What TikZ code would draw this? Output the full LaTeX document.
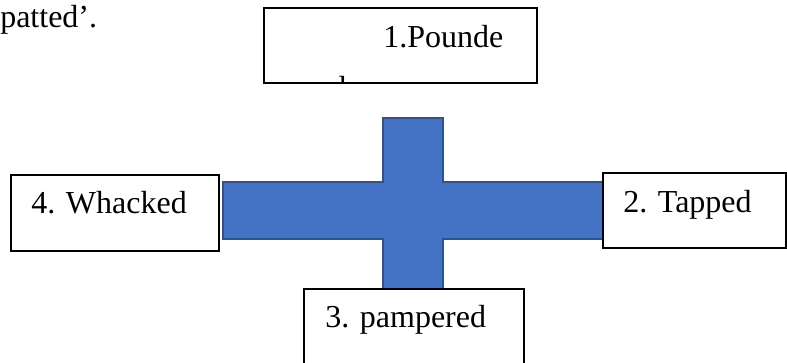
\documentclass[tikz,border=0pt]{standalone}
\usepackage{fontspec}
\setmainfont{Liberation Serif}
\definecolor{crossblue}{HTML}{4472C4}
\definecolor{crossedge}{HTML}{2F528F}
\tikzset{
  wordbox/.style={draw=black, fill=white, line width=1.3pt},
  crossshape/.style={fill=crossblue, draw=crossedge, line width=1pt},
  label/.style={anchor=base west, inner sep=0pt, font=\fontsize{24pt}{28pt}\selectfont}
}
\begin{document}
\begin{tikzpicture}[x=0.75pt, y=-0.75pt]
\useasboundingbox (0,0) rectangle (787,362);
\clip (0,0) rectangle (787,362);
% text at top left
\node[label] (prev) at (0,27) {patted’.};
% cross
\draw[crossshape] (383,118) -- (443,118) -- (443,182) -- (606,182) -- (606,239)
  -- (443,239) -- (443,292) -- (383,292) -- (383,239) -- (223,239) -- (223,182)
  -- (383,182) -- cycle;
% box 1
\draw[wordbox] (264,8) rectangle (537,83);
\coordinate (b1) at (264,8);
\node[label] (t1) at (383,47) {1.Pounde};
\begin{scope}
  \clip (265,9) rectangle (536,82);
  \node[label] (t1b) at (330,98) {d};
\end{scope}
% box 4
\draw[wordbox] (11,175) rectangle (219,251);
\node[label] (t4) at (31,213) {4. Whacked};
% box 2
\draw[wordbox] (603,173) rectangle (786,248);
\node[label] (t2) at (623,212) {2. Tapped};
% box 3
\draw[wordbox] (304,289) rectangle (524,380);
\node[label] (t3) at (325,327) {3. pampered};
\end{tikzpicture}
\end{document}
